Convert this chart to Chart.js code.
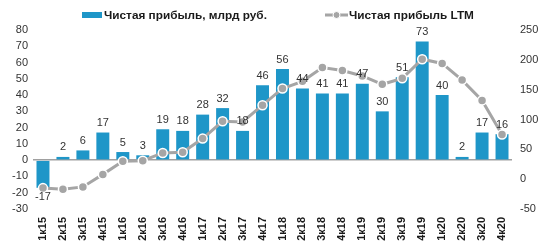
<!DOCTYPE html>
<html><head><meta charset="utf-8">
<script src="https://cdn.jsdelivr.net/npm/chart.js@4"></script>
<style>html,body{margin:0;padding:0;background:#fff;overflow:hidden}canvas{display:block}</style>
</head><body><canvas id="c" width="548" height="250"></canvas>
<script>
const categories = ["1к15","2к15","3к15","4к15","1к16","2к16","3к16","4к16","1к17","2к17","3к17","4к17","1к18","2к18","3к18","4к18","1к19","2к19","3к19","4к19","1к20","2к20","3к20","4к20"];
const netProfit = [-17,2,6,17,5,3,19,18,28,32,18,46,56,44,41,41,47,30,51,73,40,2,17,16];
const netProfitLTM = [-15,-17,-13,8,30,31,44,45,68,97,96,124,152,164,187,182,173,159,169,201,194,166,132,75];
const leftTicks = {min:-30,max:80,step:10};
const rightTicks = {min:-50,max:250,step:50};
const seriesNames = ["Чистая прибыль, млрд руб.","Чистая прибыль LTM"];

const BLUE = "#1E96C8", GRAY = "#A5A5A5", TXT = "#333333";
const FONT = "'Liberation Sans', Arial, sans-serif";

const labelPlugin = {
  id: 'barLabels',
  afterDatasetsDraw(chart) {
    const ctx = chart.ctx;
    const meta = chart.getDatasetMeta(0);
    ctx.save();
    ctx.font = "11px " + FONT;
    ctx.fillStyle = TXT;
    ctx.textAlign = 'center';
    meta.data.forEach((bar, i) => {
      const v = netProfit[i];
      if (v >= 0) { ctx.textBaseline = 'bottom'; ctx.fillText(String(v), bar.x, bar.y - 4); }
      else { ctx.textBaseline = 'top'; ctx.fillText(String(v), bar.x, bar.y + 4); }
    });
    ctx.restore();
  },
  afterDraw(chart) {
    const ctx = chart.ctx;
    ctx.save();
    ctx.font = "bold 11.8px " + FONT;
    ctx.textBaseline = 'middle';
    ctx.textAlign = 'left';
    const cy = 15;
    ctx.fillStyle = BLUE;
    ctx.fillRect(82, cy - 3, 20, 6);
    ctx.fillStyle = "#1a1a1a";
    ctx.fillText(seriesNames[0], 104, cy + 0.5);
    ctx.strokeStyle = GRAY; ctx.lineWidth = 3;
    ctx.beginPath(); ctx.moveTo(325, cy); ctx.lineTo(348, cy); ctx.stroke();
    ctx.fillStyle = GRAY; ctx.strokeStyle = "#fff"; ctx.lineWidth = 1;
    ctx.beginPath(); ctx.arc(336.5, cy, 3.5, 0, Math.PI*2); ctx.fill(); ctx.stroke();
    ctx.fillStyle = "#1a1a1a";
    ctx.fillText(seriesNames[1], 349, cy + 0.5);
    ctx.restore();
  }
};

new Chart(document.getElementById('c'), {
  data: {
    labels: categories,
    datasets: [
      { type:'bar', label: seriesNames[0], data: netProfit, backgroundColor: BLUE, yAxisID:'y', order:2,
        barPercentage:0.65, categoryPercentage:1 },
      { type:'line', label: seriesNames[1], data: netProfitLTM, yAxisID:'y1', order:1,
        borderColor: GRAY, borderWidth:3, pointRadius:4.5, pointBackgroundColor: GRAY,
        pointBorderColor:'#fff', pointBorderWidth:1.5, tension:0 }
    ]
  },
  options: {
    responsive:false, animation:false, devicePixelRatio:1,
    layout:{ padding:{ top:30, left:0, right:0, bottom:0 } },
    plugins:{ legend:{display:false}, tooltip:{enabled:false} },
    scales:{
      x:{ offset:true, grid:{display:false, drawTicks:false}, border:{display:false},
          ticks:{ minRotation:90, maxRotation:90, autoSkip:false, padding:8,
                  font:{family:FONT, size:11, weight:'bold'}, color:"#1a1a1a" },
          afterFit(s){ s.height = 41; } },
      y:{ position:'left', min:leftTicks.min, max:leftTicks.max,
          grid:{ drawTicks:false, color:(c)=> c.tick && c.tick.value===0 ? '#A0A0A0' : 'rgba(0,0,0,0)', lineWidth:1.5 },
          border:{display:false},
          ticks:{ stepSize:leftTicks.step, padding:5, font:{family:FONT, size:11}, color:TXT },
          afterFit(s){ s.width = 33; } },
      y1:{ position:'right', min:rightTicks.min, max:rightTicks.max,
          grid:{ display:false, drawTicks:false }, border:{display:false},
          ticks:{ stepSize:rightTicks.step, padding:8, font:{family:FONT, size:11}, color:TXT },
          afterFit(s){ s.width = 36; } }
    }
  },
  plugins:[labelPlugin]
});
</script>
</body></html>
